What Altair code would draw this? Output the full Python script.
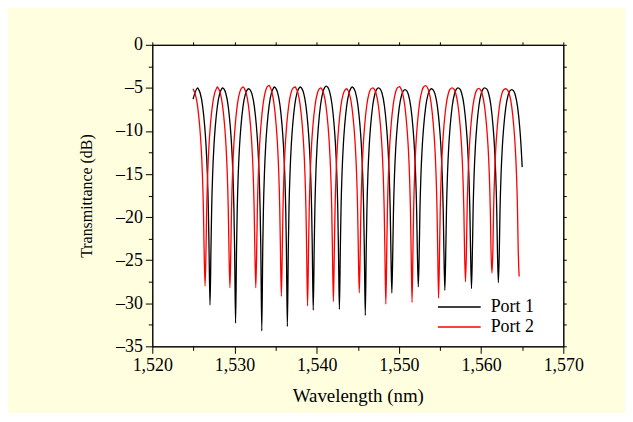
import altair as alt
import pandas as pd

# ---- values ----
PORTS = ["Port 1", "Port 2"]
COLORS = ["#000000", "#FF0000"]

X_DOMAIN = [1520, 1570]
Y_DOMAIN = [-35, 0]
X_TICKS = [1520, 1525, 1530, 1535, 1540, 1545, 1550, 1555, 1560, 1565, 1570]
Y_TICKS = [-35, -32.5, -30, -27.5, -25, -22.5, -20, -17.5, -15, -12.5, -10, -7.5, -5, -2.5, 0]

# Port 1 (black)
P1_START = (1524.96, -6.3)
P1_END = (1565.0, -14.2)
P1_PEAK_NM = [1525.53, 1528.55, 1531.70, 1534.85, 1538.02, 1541.15, 1544.30,
              1547.50, 1550.73, 1553.95, 1557.18, 1560.42, 1563.74]
P1_PEAK_DB = [-5.0, -5.0, -5.1, -4.9, -4.9, -4.8, -4.9, -5.0, -5.2, -5.1, -5.0, -5.0, -5.2]
P1_DIP_NM = [1527.02, 1530.13, 1533.32, 1536.43, 1539.58, 1542.76, 1545.91,
             1549.14, 1552.36, 1555.59, 1558.83, 1562.10, 1565.35]
P1_DIP_DB = [-30.2, -32.3, -33.2, -32.7, -30.8, -30.7, -31.4, -28.8, -28.1, -28.5, -28.3, -27.6, -30.0]

# Port 2 (red)
P2_START = (1524.96, -5.1)
P2_END = (1564.63, -26.9)
P2_PEAK_NM = [1524.96, 1527.92, 1531.05, 1534.22, 1537.38, 1540.50, 1543.65,
              1546.85, 1550.08, 1553.25, 1556.48, 1559.70, 1562.98]
P2_PEAK_DB = [-5.1, -4.9, -4.9, -4.7, -4.9, -5.0, -5.1, -5.0, -4.85, -4.75, -5.0, -5.05, -5.1]
P2_DIP_NM = [1526.42, 1529.44, 1532.59, 1535.70, 1538.89, 1542.03, 1545.18,
             1548.41, 1551.60, 1554.83, 1558.10, 1561.32, 1564.63]
P2_DIP_DB = [-28.0, -28.2, -28.2, -29.2, -30.3, -29.8, -28.8, -30.1, -29.9, -29.4, -27.5, -26.5, -26.9]

# dip flank shape read from one dip: distance from dip centre (nm) and level below the peak (dB)
PROFILE_OFFSET_NM = [0.12, 0.2, 0.33, 0.48, 0.65, 0.9, 1.2, 1.4]
PROFILE_DROP_DB = [-18.5, -14.1, -9.8, -6.7, -4.4, -2.1, -0.6, -0.15]


def build(name, peaks_nm, peaks_db, dips_nm, dips_db, start, end):
    peaks = list(zip(peaks_nm, peaks_db))
    pts = [start, end] + peaks
    for d, depth in zip(dips_nm, dips_db):
        left = [p for p in peaks if p[0] < d]
        right = [p for p in peaks if p[0] > d]
        lv = left[-1][1] if left else -5.0
        rv = right[0][1] if right else -5.0
        pts.append((d, depth))
        for off, drop in zip(PROFILE_OFFSET_NM, PROFILE_DROP_DB):
            pts.append((round(d - off, 3), round(lv + drop, 3)))
            pts.append((round(d + off, 3), round(rv + drop, 3)))
    pts = sorted(set(p for p in pts if start[0] <= p[0] <= end[0]))
    return pd.DataFrame({"wl": [p[0] for p in pts], "db": [p[1] for p in pts], "port": name})


df = pd.concat([
    build(PORTS[0], P1_PEAK_NM, P1_PEAK_DB, P1_DIP_NM, P1_DIP_DB, P1_START, P1_END),
    build(PORTS[1], P2_PEAK_NM, P2_PEAK_DB, P2_DIP_NM, P2_DIP_DB, P2_START, P2_END),
], ignore_index=True)

FONT = "Liberation Serif"
LABEL_SIZE = 18

xscale = alt.Scale(domain=X_DOMAIN, nice=False, zero=False)
yscale = alt.Scale(domain=Y_DOMAIN, nice=False, zero=False)

lines = alt.Chart(df).mark_line(strokeWidth=1.3, interpolate="monotone").encode(
    x=alt.X("wl:Q", scale=xscale, axis=alt.Axis(
        orient="bottom", values=X_TICKS, grid=False,
        labelExpr="datum.value % 10 === 0 ? format(datum.value, ',') : ''",
        tickSize={"condition": {"test": "datum.value % 10 !== 0", "value": 4}, "value": 7},
        labelFont=FONT, labelFontSize=LABEL_SIZE, labelColor="black", labelPadding=3,
        labelFlush=False, labelOverlap=False,
        domainColor="black", tickColor="black",
        title="Wavelength (nm)", titleFont=FONT, titleFontSize=19, titleFontWeight="normal",
        titleColor="black", titleY=55, titleBaseline="alphabetic",
    )),
    y=alt.Y("db:Q", scale=yscale, axis=alt.Axis(
        orient="left", values=Y_TICKS, grid=False,
        labelExpr="datum.value % 5 === 0 ? (datum.value < 0 ? '\u2013' + abs(datum.value) : '' + datum.value) : ''",
        tickSize={"condition": {"test": "datum.value % 5 !== 0", "value": 4}, "value": 7},
        labelFont=FONT, labelFontSize=LABEL_SIZE, labelColor="black", labelPadding=3,
        labelFlush=False, labelOverlap=False,
        domainColor="black", tickColor="black",
        title="Transmittance (dB)", titleFont=FONT, titleFontSize=16, titleFontWeight="normal",
        titleColor="black", titleX=-66, titleY=151.5, titleBaseline="middle", titleAngle=270,
    )),
    color=alt.Color("port:N", title=None,
                    scale=alt.Scale(domain=PORTS, range=COLORS),
                    legend=alt.Legend(
                        orient="none", legendX=299, legendY=254,
                        symbolType="M-2.5,0H2.5", symbolSize=296, symbolStrokeWidth=1.5,
                        labelFont=FONT, labelFontSize=18, labelColor="black",
                        labelOffset=22, rowPadding=1, padding=0,
                    )),
)

frame = alt.Chart(df).mark_point(opacity=0).encode(
    x=alt.X("wl:Q", scale=xscale, axis=alt.Axis(
        orient="top", values=X_TICKS, tickSize=3, labels=False, title=None, grid=False,
        domainColor="black", tickColor="black")),
    y=alt.Y("db:Q", scale=yscale, axis=alt.Axis(
        orient="right", values=Y_TICKS, tickSize=3, labels=False, title=None, grid=False,
        domainColor="black", tickColor="black")),
)

chart = alt.layer(lines, frame).resolve_axis(
    x="independent", y="independent"
).properties(
    width=413, height=303,
    autosize=alt.AutoSizeParams(type="none"),
    padding={"left": 145, "top": 36, "right": 62, "bottom": 66},
).configure(
    background="#FFFFE0", font=FONT,
).configure_view(
    fill="white", stroke="black", strokeWidth=1,
)

chart.save("out.html", embed_options={"renderer": "svg", "actions": False})
